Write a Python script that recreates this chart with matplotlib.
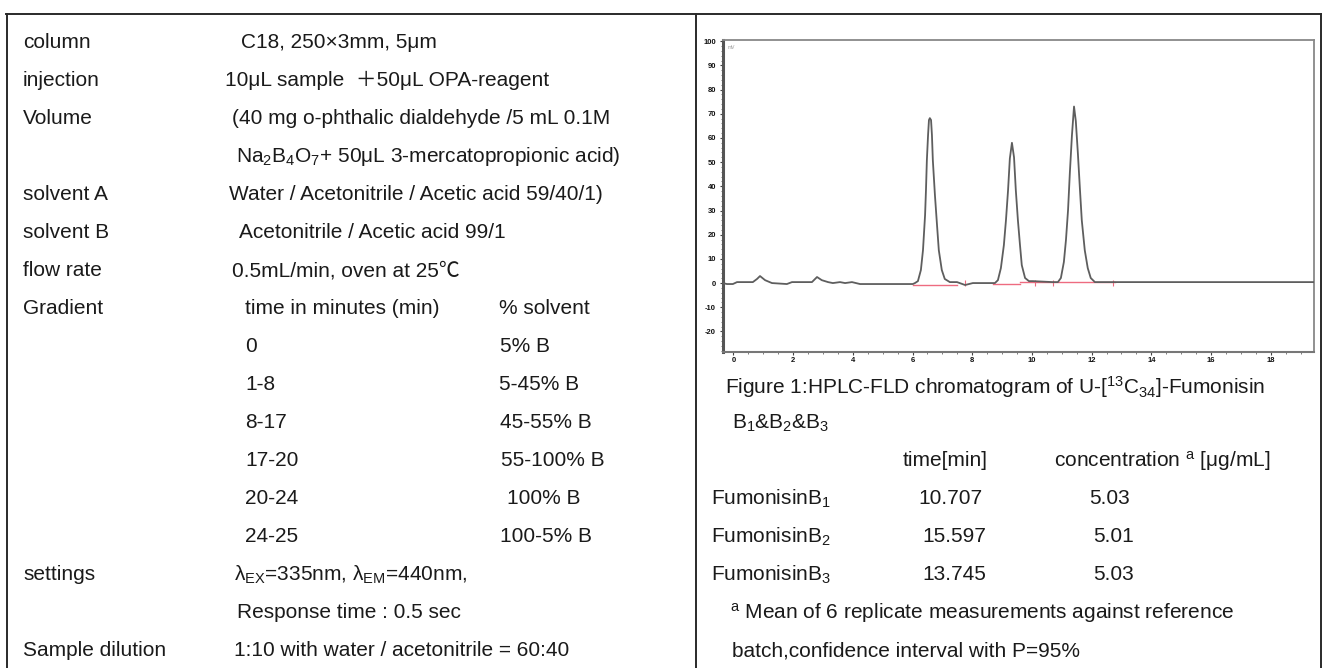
import matplotlib
matplotlib.use('Agg')
import matplotlib.pyplot as plt
from matplotlib.lines import Line2D

plt.rcParams['font.family'] = ['Liberation Sans', 'Noto Sans CJK SC', 'DejaVu Sans']
plt.rcParams['mathtext.fontset'] = 'custom'
plt.rcParams['mathtext.rm'] = 'Liberation Sans'
plt.rcParams['mathtext.it'] = 'Liberation Sans:italic'
plt.rcParams['mathtext.bf'] = 'Liberation Sans:bold'

W, H = 1322, 668

# ---------------- data ----------------
param_labels = ["column", "injection", "Volume", "", "solvent A", "solvent B", "flow rate", "Gradient"]
param_values = ["C18, 250×3mm, 5μm",
                "10μL sample  ＋50μL OPA-reagent",
                "(40 mg o-phthalic dialdehyde /5 mL 0.1M",
                r"Na$_2$B$_4$O$_7$+ 50μL 3-mercatopropionic acid)",
                "Water / Acetonitrile / Acetic acid 59/40/1)",
                "Acetonitrile / Acetic acid 99/1",
                "0.5mL/min, oven at 25℃",
                "time in minutes (min)"]
gradient_header_solvent = "% solvent"
gradient_times = ["0", "1-8", "8-17", "17-20", "20-24", "24-25"]
gradient_solvent = ["5% B", "5-45% B", "45-55% B", "55-100% B", "100% B", "100-5% B"]
settings_labels = ["settings", "", "Sample dilution"]
settings_values = [r"λ$_\mathrm{EX}$=335nm, λ$_\mathrm{EM}$=440nm,",
                   "Response time : 0.5 sec",
                   "1:10 with water / acetonitrile = 60:40"]

caption_lines = [r"Figure 1:HPLC-FLD chromatogram of U-[$^{13}$C$_{34}$]-Fumonisin",
                 r"B$_1$&B$_2$&B$_3$"]
result_header = ["time[min]", r"concentration $^\mathrm{a}$ [μg/mL]"]
compounds = [r"FumonisinB$_1$", r"FumonisinB$_2$", r"FumonisinB$_3$"]
ret_times = ["10.707", "15.597", "13.745"]
concentrations = ["5.03", "5.01", "5.03"]
footnote_lines = [r"$^\mathrm{a}$ Mean of 6 replicate measurements against reference",
                  "batch,confidence interval with P=95%"]

# chromatogram trace (time in min, signal)
trace_time = [-0.35, -0.22, -0.02, 0.12, 0.65, 0.79, 0.89, 1.06, 1.29, 1.79, 1.96, 2.63, 2.80, 2.96,
              3.17, 3.33, 3.57, 3.74, 3.97, 4.24, 6.01,
              6.08, 6.18, 6.28, 6.35, 6.42, 6.45, 6.48, 6.52, 6.55, 6.58, 6.62, 6.65, 6.68, 6.75,
              6.82, 6.88, 6.98, 7.08, 7.25, 7.49, 7.76, 8.02, 8.76,
              8.86, 8.96, 9.06, 9.13, 9.20, 9.26, 9.33, 9.40, 9.46, 9.53, 9.60, 9.66, 9.77, 9.90,
              10.03, 10.70,
              10.87, 10.97, 11.07, 11.14, 11.21, 11.27, 11.34, 11.41, 11.47, 11.54, 11.61, 11.67,
              11.77, 11.87, 11.97, 12.11, 19.45]
trace_signal = [0, -0.4, -0.4, 0.4, 0.4, 1.7, 2.9, 1.2, 0, -0.4, 0.4, 0.4, 2.5, 1.2,
                0.4, 0, 0.4, 0, 0.4, -0.4, -0.4,
                0, 0.8, 5.4, 13.6, 28.1, 38.4, 50.8, 61.2, 67.4, 68.2, 67.4, 61.2, 50.8, 36.4,
                24.0, 13.6, 5.4, 1.7, 0.4, 0.4, -0.8, 0, 0,
                1.2, 6.2, 15.7, 26.0, 38.4, 51.5, 58.0, 52.0, 38.4, 26.0, 15.7, 7.4, 2.1, 0.8,
                0.8, 0.4,
                0.4, 2.1, 8.7, 17.8, 30.2, 45.5, 61.0, 73.0, 67.0, 53.5, 38.4, 26.0,
                13.6, 6.2, 2.1, 0.4, 0.4]
# integration baselines
integ_start = [6.01, 8.69, 9.60]
integ_end = [7.49, 9.60, 12.78]
integ_level = [-0.8, -0.4, 0.4]
event_times = [7.76, 10.10, 10.70, 12.71]
x_ticks = [0, 2, 4, 6, 8, 10, 12, 14, 16, 18]
y_ticks = [-20, -10, 0, 10, 20, 30, 40, 50, 60, 70, 80, 90, 100]

# ---------------- figure ----------------
fig = plt.figure(figsize=(W / 100, H / 100), dpi=100)
fig.patch.set_facecolor('white')

def fx(x):
    return x / W

def fy(y):
    return 1 - y / H

TXT = dict(fontsize=15, color='#1a1a1a', va='baseline', ha='left')

def row_base(i):
    return 41 + 38 * i + 7.5

# table borders
border_kw = dict(color='#2a2a2a', lw=1.4, transform=fig.transFigure)
fig.add_artist(Line2D([fx(6), fx(1321)], [fy(13.5), fy(13.5)], **border_kw))
fig.add_artist(Line2D([fx(7), fx(7)], [fy(13.5), fy(668)], **border_kw))
fig.add_artist(Line2D([fx(696), fx(696)], [fy(13.5), fy(668)], **border_kw))
fig.add_artist(Line2D([fx(1320.5), fx(1320.5)], [fy(13.5), fy(668)], **border_kw))

# left column
value_x = [241, 225, 232, 236, 229, 239, 232, 245]
for i, (lab, val) in enumerate(zip(param_labels, param_values)):
    if lab:
        fig.text(fx(23), fy(row_base(i)), lab, **TXT)
    fig.text(fx(value_x[i]), fy(row_base(i)), val, **TXT)
fig.text(fx(499), fy(row_base(7)), gradient_header_solvent, **TXT)

solv_x = [500, 499, 500, 501, 507, 500]
for k, (t, s) in enumerate(zip(gradient_times, gradient_solvent)):
    r = 8 + k
    fig.text(fx(245), fy(row_base(r)), t, **TXT)
    fig.text(fx(solv_x[k]), fy(row_base(r)), s, **TXT)

set_x = [234, 237, 234]
for k, (lab, val) in enumerate(zip(settings_labels, settings_values)):
    r = 14 + k
    if lab:
        fig.text(fx(23), fy(row_base(r)), lab, **TXT)
    fig.text(fx(set_x[k]), fy(row_base(r)), val, **TXT)

# right column texts
fig.text(fx(725), fy(row_base(9) + 3), caption_lines[0], **TXT)
fig.text(fx(732), fy(row_base(10)), caption_lines[1], **TXT)
fig.text(fx(903), fy(row_base(11)), result_header[0], **TXT)
fig.text(fx(1054), fy(row_base(11)), result_header[1], **TXT)
time_x = [918, 922, 922]
conc_x = [1089, 1093, 1093]
for k in range(3):
    r = 12 + k
    fig.text(fx(711), fy(row_base(r)), compounds[k], **TXT)
    fig.text(fx(time_x[k]), fy(row_base(r)), ret_times[k], **TXT)
    fig.text(fx(conc_x[k]), fy(row_base(r)), concentrations[k], **TXT)
fig.text(fx(730), fy(row_base(15)), footnote_lines[0], **TXT)
fig.text(fx(732), fy(row_base(16)), footnote_lines[1], **TXT)

# chromatogram
L, R, T, B = 723, 1314, 40, 352
ax = fig.add_axes([fx(L), fy(B), fx(R - L), (B - T) / H])
ax.plot(trace_time, trace_signal, color='#5e5e5e', lw=1.3, zorder=3)
for s, e, lv in zip(integ_start, integ_end, integ_level):
    ax.plot([s, e], [lv, lv], color='#ee6b80', lw=1.0, zorder=2)
ax.plot(event_times, [0] * len(event_times), ls='none', marker='|', ms=4, mew=0.8,
        color='#ee6b80', zorder=2)
ax.set_xlim(-0.35, 19.45)
ax.set_ylim(-28.5, 100.5)
ax.set_xticks(x_ticks)
ax.set_yticks(y_ticks)
ax.set_xticklabels([str(v) for v in x_ticks])
ax.set_yticklabels([str(v) for v in y_ticks])
ax.set_xticks([v / 2 for v in range(0, 39)], minor=True)
ax.set_yticks(list(range(-28, 101, 2)), minor=True)
ax.tick_params(axis='both', which='major', labelsize=5.5, length=2.5, width=0.8,
               colors='#444', labelcolor='#111')
ax.tick_params(axis='y', which='major', pad=2.5)
ax.tick_params(axis='x', which='major', pad=1)
ax.tick_params(axis='both', which='minor', length=1.5, width=0.6, colors='#666')
for lbl in ax.get_xticklabels() + ax.get_yticklabels():
    lbl.set_fontweight('bold')
for side in ['top', 'right']:
    ax.spines[side].set_color('#888')
    ax.spines[side].set_linewidth(1.3)
ax.spines['bottom'].set_color('#777')
ax.spines['bottom'].set_linewidth(1.5)
ax.spines['left'].set_color('#555')
ax.spines['left'].set_linewidth(2.2)
ax.text(0.008, 0.985, "mV", transform=ax.transAxes, fontsize=3.5, color='#999',
        va='top', ha='left')

fig.savefig('out.png', dpi=100)
